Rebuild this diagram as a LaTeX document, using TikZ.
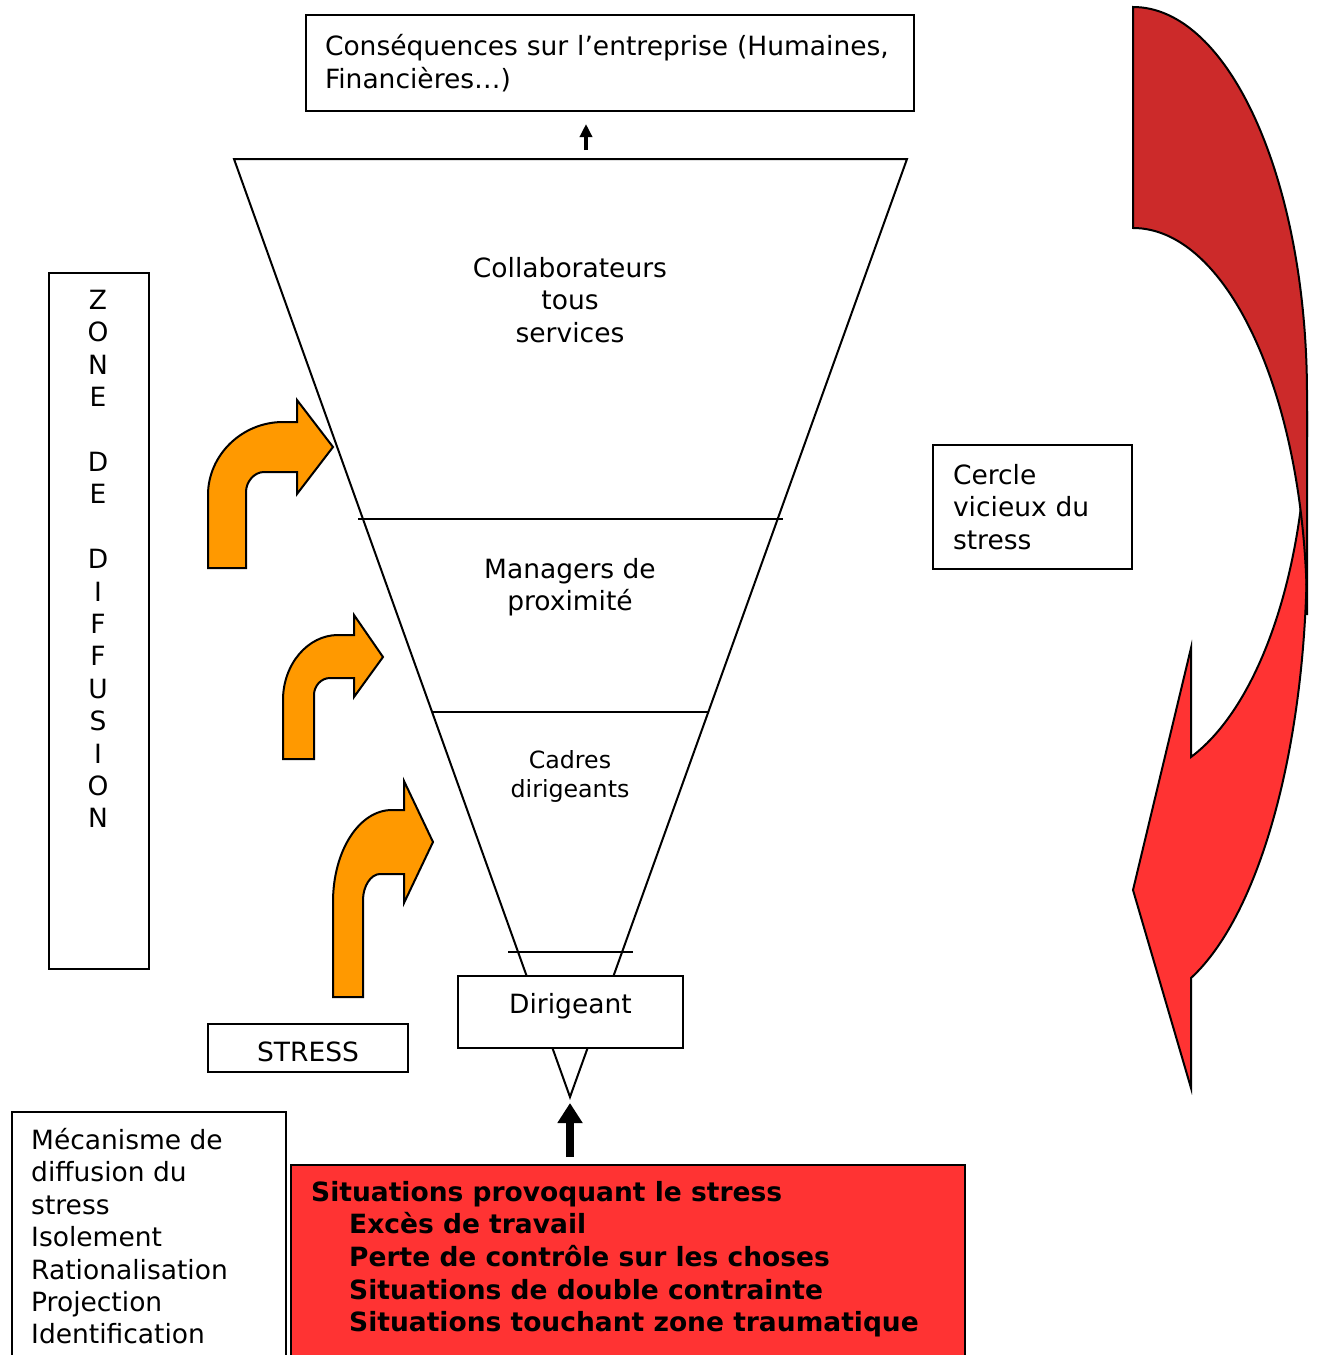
\documentclass[tikz,border=0pt]{standalone}
\usepackage{fontspec}
\setmainfont{DejaVu Sans}
\usetikzlibrary{arrows.meta,positioning}

\definecolor{orangearrow}{HTML}{FF9900}
\definecolor{redbox}{HTML}{FF3333}
\definecolor{redback}{HTML}{CC2A2A}

\tikzset{
  box/.style={draw, line width=2pt, fill=white, inner sep=0pt},
  labeltext/.style={font=\fontsize{26.5}{32.4}\selectfont},
  smalltext/.style={font=\fontsize{23.7}{29}\selectfont},
  boldtext/.style={font=\fontsize{26.5}{32.6}\selectfont\bfseries},
  funnelline/.style={line width=2pt},
  bentarrow/.style={draw, line width=2pt, fill=orangearrow, line join=miter},
  curvedarrow/.style={draw, line width=2pt, line join=miter},
}

\begin{document}
\begin{tikzpicture}[x=1pt,y=-1pt]
        \useasboundingbox (0,0) rectangle (1317,1355);

        % funnel
        \draw[funnelline] (234,159) -- (907,159) -- (570,1097) -- cycle;
        \draw[funnelline] (358,519) -- (783,519);
        \draw[funnelline] (432,712) -- (708,712);
        \draw[funnelline] (508,952) -- (633,952);
        \coordinate (ftop) at (586,150);
        \coordinate (apex) at (570,1097);

        \node[labeltext, align=center] (collab) at (570,300) {Collaborateurs\\tous\\services};
        \node[labeltext, align=center] (managers) at (570,587) {Managers de\\proximité};
        \node[smalltext, align=center] (cadres) at (570,776) {Cadres\\dirigeants};
        \node[box, labeltext, minimum width=225pt, minimum height=72pt, text height=20pt, text depth=17pt] (dirigeant) at (570.5,1012) {Dirigeant};

        % boxes
        \node[box, labeltext, anchor=north west, minimum width=608pt, minimum height=96pt, text width=570pt, align=left, inner xsep=19pt] (conseq) at (305,14) {Conséquences sur l’entreprise (Humaines,\\Financières…)};
        \node[box, labeltext, anchor=north west, minimum width=199pt, minimum height=124pt, text width=159pt, align=left, inner xsep=20pt] (cercle) at (932,444) {Cercle\\vicieux du\\stress};
        \node[box, labeltext, minimum width=200pt, minimum height=48pt, text height=30pt, text depth=3pt] (stress) at (308,1048) {STRESS};

        \node[box, anchor=north west, minimum width=100pt, minimum height=696pt] (zone) at (48,272) {};
        \node[labeltext, align=center, anchor=north, inner sep=0pt] (zonetext) at (98,290) {Z\\O\\N\\E\\[32.4pt]D\\E\\[32.4pt]D\\I\\F\\F\\U\\S\\I\\O\\N};

        \node[box, anchor=north west, minimum width=274pt, minimum height=270pt] (mecanisme) at (11,1111) {};
        \node[labeltext, align=left, anchor=north west, inner sep=0pt] (mecatext) at (31,1128) {Mécanisme de\\diffusion du\\stress\\Isolement\\Rationalisation\\Projection\\Identification};

        \node[box, fill=redbox, anchor=north west, minimum width=674pt, minimum height=220pt] (situ) at (290,1164) {};
        \node[boldtext, align=left, anchor=north west, inner sep=0pt] (situtext) at (311,1181) {Situations provoquant le stress\\\hspace*{38pt}Excès de travail\\\hspace*{38pt}Perte de contrôle sur les choses\\\hspace*{38pt}Situations de double contrainte\\\hspace*{38pt}Situations touchant zone traumatique};

        % straight arrows
        \draw[line width=3.5pt, -{Triangle[width=12pt,length=13pt]}, shorten >=12pt] (ftop) -- (ftop |- conseq.south);
        \draw[line width=8pt, -{Triangle[width=24pt,length=20pt]}, shorten <=7pt, shorten >=6pt] (situ.north -| apex) -- (apex);

        % orange bent arrows
        \draw[bentarrow] (208,568) -- (208,495) .. controls (208,455) and (242,422) .. (283,422) -- (297,422) -- (297,400) -- (333,447) -- (297,494) -- (297,472) -- (264,472) .. controls (254,472) and (246,482) .. (246,492) -- (246,568) -- cycle;
        \draw[bentarrow] (283,759) -- (283,700) .. controls (283,664) and (308,635) .. (338,635) -- (354,635) -- (354,615) -- (383,657) -- (354,697) -- (354,678) -- (330,678) .. controls (321,678) and (314,686) .. (314,695) -- (314,759) -- cycle;
        \draw[bentarrow] (333,997) -- (333,902) .. controls (333,851) and (359,810) .. (392,810) -- (404,810) -- (404,781) -- (433,842) -- (404,903) -- (404,874) -- (380,874) .. controls (371,874) and (363,886) .. (363,900) -- (363,997) -- cycle;

        % red curved arrow
        \draw[curvedarrow, fill=redbox] (1191,757) -- (1191,648) -- (1133,890) -- (1191,1088) -- (1191,978) arc[start angle=70.5, end angle=0, x radius=174, y radius=452] -- (1307,411) arc[start angle=0, end angle=70.5, x radius=174, y radius=367] -- cycle;
        \draw[curvedarrow, fill=redback] (1133,7) -- (1133,228) arc[start angle=-90, end angle=0, x radius=174, y radius=387] -- (1307,395) arc[start angle=0, end angle=-90, x radius=174, y radius=388] -- cycle;
\end{tikzpicture}
\end{document}
